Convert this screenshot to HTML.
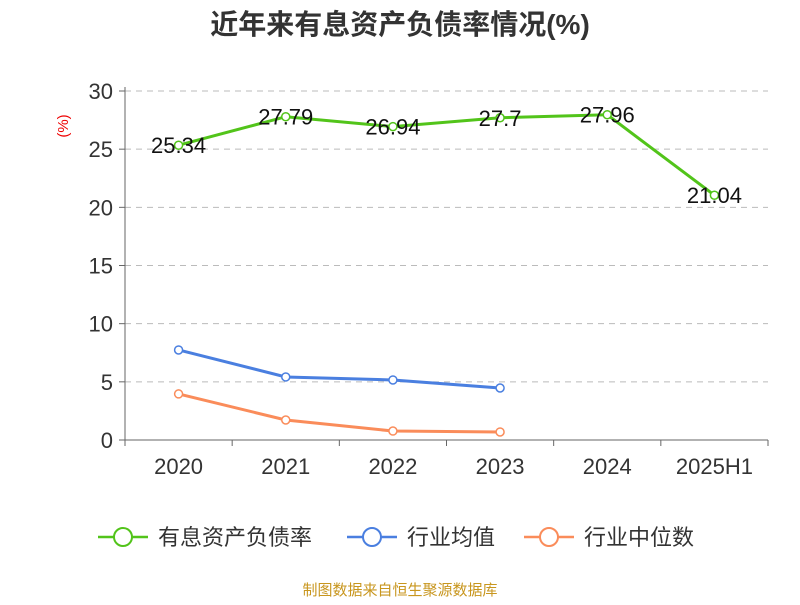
<!DOCTYPE html>
<html><head><meta charset="utf-8"><style>
body{margin:0;background:#fff;font-family:"Liberation Sans","Noto Sans CJK SC",sans-serif;}
</style></head><body>
<svg width="800" height="600" xmlns="http://www.w3.org/2000/svg" id="chart" font-family="Liberation Sans, Noto Sans CJK SC, sans-serif">
<text x="400" y="34" text-anchor="middle" font-size="28" font-weight="bold" fill="#333">近年来有息资产负债率情况(%)</text>
<text x="68" y="126" font-size="15" fill="#e00" transform="rotate(-90 68 126)" text-anchor="middle">(%)</text>
<g id="grid"></g><g id="axes"></g><g id="series"></g>
<g>
<g><line x1="98" y1="537" x2="148" y2="537" stroke="#52c41a" stroke-width="2.5"/><circle cx="123" cy="537" r="9" fill="#fff" stroke="#52c41a" stroke-width="2"/><text x="158" y="545" font-size="22" fill="#333">有息资产负债率</text></g>
<g><line x1="347" y1="537" x2="397" y2="537" stroke="#4a7fe0" stroke-width="2.5"/><circle cx="372" cy="537" r="9" fill="#fff" stroke="#4a7fe0" stroke-width="2"/><text x="407" y="545" font-size="22" fill="#333">行业均值</text></g>
<g><line x1="524" y1="537" x2="574" y2="537" stroke="#fa8c5a" stroke-width="2.5"/><circle cx="549" cy="537" r="9" fill="#fff" stroke="#fa8c5a" stroke-width="2"/><text x="584" y="545" font-size="22" fill="#333">行业中位数</text></g>
</g>
<text x="400" y="595" text-anchor="middle" font-size="15" fill="#c8961e">制图数据来自恒生聚源数据库</text>
</svg>
<script>
const categories=["2020","2021","2022","2023","2024","2025H1"];
const debtRatio=[25.34,27.79,26.94,27.7,27.96,21.04];
const industryMean=[7.74,5.42,5.16,4.47];
const industryMedian=[3.96,1.72,0.77,0.69];
const yTicks=[0,5,10,15,20,25,30];
const NS="http://www.w3.org/2000/svg";
const x0=125,x1=768,yTop=91,yBot=440,yMax=30;
const bw=(x1-x0)/categories.length;
const xs=i=>x0+bw*(i+0.5);
const ys=v=>yBot-(v/yMax)*(yBot-yTop);
function mk(t,a,p){const e=document.createElementNS(NS,t);for(const k in a)e.setAttribute(k,a[k]);p.appendChild(e);return e;}
const grid=document.getElementById('grid'),axes=document.getElementById('axes'),ser=document.getElementById('series');
yTicks.forEach(v=>{
 if(v>0){const l=mk('line',{x1:x0,x2:x1,y1:ys(v),y2:ys(v),stroke:'#bbb','stroke-dasharray':'6,5'},grid);
 
 }
 const tk=mk('line',{x1:x0-6,x2:x0,y1:ys(v),y2:ys(v),stroke:'#666'},axes);
 
 
 const t=mk('text',{x:x0-12,y:ys(v)+8,'text-anchor':'end','font-size':22,fill:'#333'},axes);t.textContent=v;
 
 
});
const ya=mk('line',{x1:x0,x2:x0,y1:yTop-4,y2:yBot,stroke:'#666'},axes);


const xa=mk('line',{x1:x0,x2:x1,y1:yBot,y2:yBot,stroke:'#666'},axes);


for(let i=0;i<=categories.length;i++){const tk=mk('line',{x1:x0+bw*i,x2:x0+bw*i,y1:yBot,y2:yBot+6,stroke:'#666'},axes);
 
 }
categories.forEach((c,i)=>{const t=mk('text',{x:xs(i),y:474,'text-anchor':'middle','font-size':22,fill:'#333'},axes);t.textContent=c;
 
 });
function series(vals,color,name,labels){
 const g=mk('g',{},ser);
 
 
 const p=mk('polyline',{points:vals.map((v,i)=>xs(i)+','+ys(v)).join(' '),fill:'none',stroke:color,'stroke-width':3},g);
 
 
 vals.forEach((v,i)=>{const c=mk('circle',{cx:xs(i),cy:ys(v),r:4,fill:'#fff',stroke:color,'stroke-width':1.5},g);
  
  
  if(labels){const t=mk('text',{x:xs(i),y:ys(v)+8,'text-anchor':'middle','font-size':22,fill:'#111'},g);t.textContent=v;
  
  }
 });
}
series(industryMedian,'#fa8c5a','industry-median-series',false);
series(industryMean,'#4a7fe0','industry-mean-series',false);
series(debtRatio,'#52c41a','debt-ratio-series',true);
</script>
</body></html>
